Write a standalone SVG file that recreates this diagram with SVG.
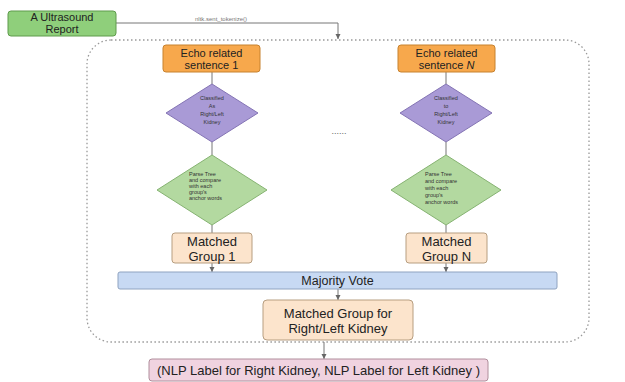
<svg xmlns="http://www.w3.org/2000/svg" width="625" height="382" viewBox="0 0 625 382">
<defs>
<style>
text{font-family:"Liberation Sans",Arial,sans-serif;fill:#222;text-anchor:middle}
.t11{font-size:11px}
.t12{font-size:12.5px}
.t13{font-size:13px}
.sm{font-size:5.5px;fill:#333}
.lbl{font-size:6px;fill:#777}
.conn{stroke:#777;stroke-width:1;fill:none}
.rep{fill:#8fcf7b;stroke:#5f9b4c;stroke-width:1}
.echo{fill:#f7a84c;stroke:#c7822f;stroke-width:1}
.cls{fill:#a99ad6;stroke:#8474b4;stroke-width:1}
.prs{fill:#b3d9a0;stroke:#86b372;stroke-width:1}
.mg{fill:#fce4cc;stroke:#b79e80;stroke-width:1}
.mv{fill:#c7d9f3;stroke:#8fa3c0;stroke-width:1}
.nlp{fill:#f0d3e0;stroke:#b08e9c;stroke-width:1}
</style>
<marker id="ah" markerWidth="6" markerHeight="6" refX="5" refY="3" orient="auto" markerUnits="userSpaceOnUse">
<path d="M0,0.5 L5,3 L0,5.5 z" fill="#666"/>
</marker>
</defs>
<rect width="625" height="382" fill="#fff"/>

<g id="container">
<rect x="87" y="40" width="502" height="302" rx="24" ry="24" fill="none" stroke="#999" stroke-width="1.3" stroke-dasharray="1.5,2.5"/>
</g>

<g id="connectors">
<path class="conn" d="M116,23 H338 V39" marker-end="url(#ah)"/>
<text class="lbl" x="221" y="21">nltk.sent_tokenize()</text>
<path class="conn" d="M212,72 V84"/>
<path class="conn" d="M212,142 V155"/>
<path class="conn" d="M212,225 V233"/>
<path class="conn" d="M212,263 V272" marker-end="url(#ah)"/>
<path class="conn" d="M446,72 V84"/>
<path class="conn" d="M446,142 V155"/>
<path class="conn" d="M446,225 V233"/>
<path class="conn" d="M446,263 V272" marker-end="url(#ah)"/>
<path class="conn" d="M338,289 V300" marker-end="url(#ah)"/>
<path class="conn" d="M324,342 V359" marker-end="url(#ah)"/>
<text x="339" y="134" style="font-size:9px;fill:#666">......</text>
</g>

<g id="report">
<rect class="rep" x="8" y="11" width="108" height="25" rx="3"/>
<text class="t11" x="62" y="21">A Ultrasound</text>
<text class="t11" x="62" y="33">Report</text>
</g>

<g id="echo1">
<rect class="echo" x="163" y="45" width="97" height="27" rx="3"/>
<text class="t11" x="211.5" y="57">Echo related</text>
<text class="t11" x="211.5" y="69">sentence 1</text>
</g>
<g id="echoN">
<rect class="echo" x="398" y="45" width="97" height="27" rx="3"/>
<text class="t11" x="446.5" y="57">Echo related</text>
<text class="t11" x="446.5" y="69">sentence <tspan font-style="italic">N</tspan></text>
</g>

<g id="classify1">
<polygon class="cls" points="212,84 258,113 212,142 166,113"/>
<text class="sm" x="212" y="100">Classified</text>
<text class="sm" x="212" y="108">As</text>
<text class="sm" x="212" y="116">Right/Left</text>
<text class="sm" x="212" y="124">Kidney</text>
</g>
<g id="classifyN">
<polygon class="cls" points="446,84 492,113 446,142 400,113"/>
<text class="sm" x="446" y="100">Classified</text>
<text class="sm" x="446" y="108">to</text>
<text class="sm" x="446" y="116">Right/Left</text>
<text class="sm" x="446" y="124">Kidney</text>
</g>

<g id="parse1">
<polygon class="prs" points="212,155 267,190 212,225 157,190"/>
<text class="sm" x="189" y="176" style="text-anchor:start">Parse Tree</text>
<text class="sm" x="189" y="182" style="text-anchor:start">and compare</text>
<text class="sm" x="189" y="188" style="text-anchor:start">with each</text>
<text class="sm" x="189" y="194" style="text-anchor:start">group's</text>
<text class="sm" x="189" y="200" style="text-anchor:start">anchor words</text>
</g>
<g id="parseN">
<polygon class="prs" points="446,155 501,190 446,225 391,190"/>
<text class="sm" x="425" y="176" style="text-anchor:start">Parse Tree</text>
<text class="sm" x="425" y="183" style="text-anchor:start">and compare</text>
<text class="sm" x="425" y="190" style="text-anchor:start">with each</text>
<text class="sm" x="425" y="197" style="text-anchor:start">group's</text>
<text class="sm" x="425" y="204" style="text-anchor:start">anchor words</text>
</g>

<g id="matched1">
<rect class="mg" x="172" y="233" width="80" height="30" rx="3"/>
<text class="t13" x="212" y="246">Matched</text>
<text class="t13" x="212" y="261">Group 1</text>
</g>
<g id="matchedN">
<rect class="mg" x="406" y="233" width="81" height="30" rx="3"/>
<text class="t13" x="446.5" y="246">Matched</text>
<text class="t13" x="446.5" y="261">Group N</text>
</g>

<g id="majority">
<rect class="mv" x="118" y="272" width="439" height="17" rx="2"/>
<text class="t12" x="337.5" y="285">Majority Vote</text>
</g>

<g id="final">
<rect class="mg" x="263" y="300" width="150" height="40" rx="4"/>
<text class="t13" x="338" y="318">Matched Group for</text>
<text class="t13" x="338" y="333">Right/Left Kidney</text>
</g>

<g id="nlp">
<rect class="nlp" x="149" y="359" width="339" height="22" rx="3"/>
<text class="t13" x="318.5" y="375">(NLP Label for Right Kidney, NLP Label for Left Kidney )</text>
</g>
</svg>
